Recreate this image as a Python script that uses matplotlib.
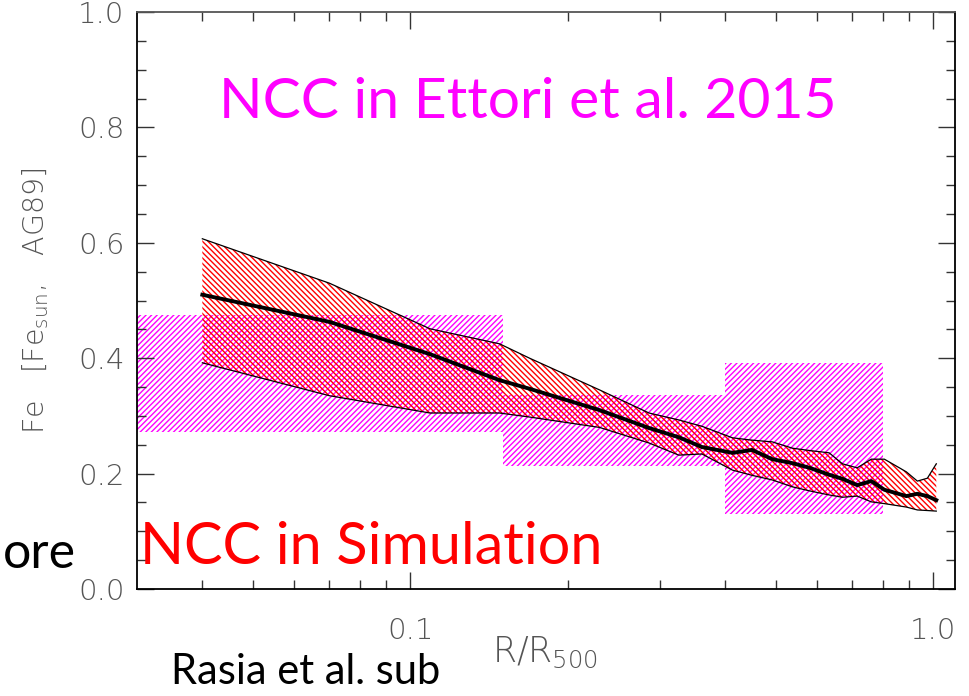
import numpy as np
import matplotlib
matplotlib.use("Agg")
import matplotlib.pyplot as plt
from matplotlib.ticker import FixedLocator, NullFormatter

# simulation band (NCC): R/R500, upper, median, lower Fe
sim_r = [0.04, 0.070, 0.109, 0.148, 0.169, 0.230, 0.286, 0.326, 0.361, 0.413,
         0.450, 0.492, 0.538, 0.580, 0.632, 0.670, 0.715, 0.761, 0.806, 0.888,
         0.932, 0.974, 1.013]
sim_hi = [0.607, 0.530, 0.451, 0.425, 0.400, 0.345, 0.305, 0.293, 0.282, 0.262,
          0.258, 0.255, 0.244, 0.240, 0.236, 0.217, 0.210, 0.225, 0.225, 0.203,
          0.187, 0.192, 0.217]
sim_med = [0.510, 0.463, 0.407, 0.362, 0.347, 0.310, 0.279, 0.263, 0.246, 0.236,
           0.241, 0.225, 0.218, 0.210, 0.198, 0.191, 0.180, 0.187, 0.172, 0.161,
           0.165, 0.161, 0.154]
sim_lo = [0.392, 0.335, 0.305, 0.305, 0.298, 0.280, 0.253, 0.232, 0.234, 0.206,
          0.197, 0.189, 0.177, 0.170, 0.163, 0.159, 0.161, 0.151, 0.148, 0.142,
          0.137, 0.136, 0.135]

# Ettori et al. 2015 bins
ett_lo_edge = [0.01, 0.15, 0.40]
ett_hi_edge = [0.15, 0.40, 0.80]
ett_bottom = [0.272, 0.213, 0.130]
ett_top = [0.475, 0.336, 0.392]

xticks = [0.1, 1.0]
xticklabels = ["0.1", "1.0"]
xminor = [0.04, 0.05, 0.06, 0.07, 0.08, 0.09, 0.2, 0.3, 0.4, 0.5, 0.6, 0.7, 0.8, 0.9]
yticks = [0.0, 0.2, 0.4, 0.6, 0.8, 1.0]

plt.rcParams['hatch.linewidth'] = 1.0
plt.rcParams['mathtext.default'] = 'regular'
W, H = 969, 696
fig = plt.figure(figsize=(W / 100, H / 100), dpi=100)
ax = fig.add_axes([137 / W, 1 - 589 / H, (955 - 137) / W, (589 - 12) / H])

# magenta Ettori boxes
for lo, hi, b, t in zip(ett_lo_edge, ett_hi_edge, ett_bottom, ett_top):
    ax.bar(lo, t - b, width=hi - lo, bottom=b, align='edge', facecolor='none',
           edgecolor='#ff00ff', linewidth=0, hatch='//////')

# red simulation band
ax.fill_between(sim_r, sim_lo, sim_hi, facecolor='none', edgecolor='red',
                linewidth=0, hatch='\\\\\\\\\\\\')
ax.plot(sim_r, sim_hi, color='black', lw=0.9)
ax.plot(sim_r, sim_lo, color='black', lw=0.9)
ax.plot(sim_r, sim_med, color='black', lw=2.8)

ax.set_xscale('log')
ax.set_xlim(0.03, 1.1)
ax.set_ylim(0, 1.0)
ax.xaxis.set_major_locator(FixedLocator(xticks))
ax.set_xticklabels(xticklabels)
ax.xaxis.set_minor_locator(FixedLocator(xminor))
ax.xaxis.set_minor_formatter(NullFormatter())
ax.set_yticks(yticks)
ax.set_yticklabels(["%.1f" % v for v in yticks])
ax.yaxis.set_minor_locator(FixedLocator(np.arange(0.05, 1.0, 0.05)))

ax.tick_params(which='both', direction='in', top=True, right=True,
               color='#333333', labelcolor='#555555', labelsize=21)
ax.tick_params(which='major', length=12, width=1.0)
ax.tick_params(which='minor', length=6.5, width=1.0)
ax.tick_params(axis='x', which='major', pad=20)
ax.tick_params(axis='y', which='major', pad=9)
for lab in ax.get_xticklabels() + ax.get_yticklabels():
    lab.set_fontweight(200)
for s in ax.spines.values():
    s.set_linewidth(1.3)
    s.set_color('black')
ax.spines['top'].set_color('#555555')

fig.text(36 / W, 1 - 301 / H, r"Fe   [Fe$_{sun}$,   AG89]", rotation=90,
         ha='center', va='center', fontsize=20.5, color='#555555', fontweight=200)
fig.text(545 / W, 1 - 652 / H, r"R/R$_{500}$", ha='center', va='center',
         fontsize=25, color='#555555', fontweight=200)

big = dict(family=['Lato', 'DejaVu Sans'])
fig.text(528 / W, 1 - 103 / H, "NCC in Ettori et al. 2015", ha='center', va='center',
         fontsize=41, color='#ff00ff', **big)
fig.text(140 / W, 1 - 548 / H, "NCC in Simulation", ha='left', va='center',
         fontsize=41.5, color='red', **big)
fig.text(3 / W, 1 - 568 / H, "ore", ha='left', va='baseline',
         fontsize=36, color='black', **big)
fig.text(171 / W, 1 - 684 / H, "Rasia et al. sub", ha='left', va='baseline',
         fontsize=30, color='black', **big)

fig.savefig("out.png", dpi=100)
